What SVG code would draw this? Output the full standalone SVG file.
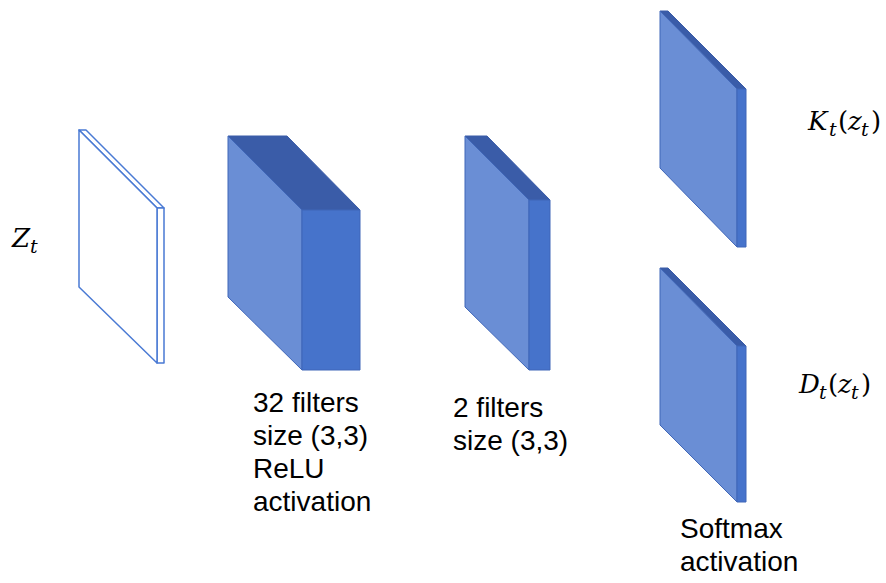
<svg xmlns="http://www.w3.org/2000/svg" width="886" height="583" viewBox="0 0 886 583">
  <style>
    .front { fill: #6A8ED5; stroke: #3F66B8; stroke-width: 1; stroke-linejoin: round; }
    .top { fill: #3A5CA8; stroke: #3A5CA8; stroke-width: 1; stroke-linejoin: round; }
    .side { fill: #4673CB; stroke: #3F66B8; stroke-width: 1; stroke-linejoin: round; }
    .outline { fill: #FFFFFF; stroke: #4A7AD4; stroke-width: 1.5; stroke-linejoin: round; }
    .label { font-family: "Liberation Sans", Arial, sans-serif; font-size: 28px; fill: #000000; }
    .math { font-family: "DejaVu Serif", "Liberation Serif", serif; font-size: 26px; fill: #000000; }
    .mi { font-style: italic; }
    .sub { font-style: italic; font-size: 19px; }
  </style>

  <!-- input plane z_t -->
  <g id="input">
    <polygon class="outline" points="79,130 86,130 164,208 157,208"/>
    <polygon class="outline" points="157,208 164,208 164,363 157,363"/>
    <polygon class="outline" points="79,130 157,208 157,363 79,287"/>
    <text class="math"><tspan class="mi" x="12" y="247">Z</tspan><tspan class="sub" x="30" y="253">t</tspan></text>
  </g>

  <!-- first conv layer: 32 filters -->
  <g id="conv1">
    <polygon class="top" points="228,136 287,136 360,210 302,210"/>
    <polygon class="front" points="228,136 302,210 302,370 228,297"/>
    <polygon class="side" points="302,210 360,210 360,370 302,370"/>
    <text class="label"><tspan x="253" y="412">32 filters</tspan><tspan x="253" y="445">size (3,3)</tspan><tspan x="253" y="478">ReLU</tspan><tspan x="253" y="511">activation</tspan></text>
  </g>

  <!-- second conv layer: 2 filters -->
  <g id="conv2">
    <polygon class="top" points="465,136 487,136 550,200 529,200"/>
    <polygon class="front" points="465,136 529,200 529,370 465,307"/>
    <polygon class="side" points="529,200 550,200 550,370 529,370"/>
    <text class="label"><tspan x="453" y="417">2 filters</tspan><tspan x="453" y="450">size (3,3)</tspan></text>
  </g>

  <!-- output map K_t -->
  <g id="outK">
    <polygon class="top" points="660,11 668,11 746,89 737,89"/>
    <polygon class="front" points="660,11 737,89 737,247 660,168"/>
    <polygon class="side" points="737,89 746,89 746,247 737,247"/>
    <text class="math"><tspan class="mi" x="808" y="130">K</tspan><tspan class="sub" x="829" y="136">t</tspan><tspan x="838" y="130">(</tspan><tspan class="mi" x="848" y="130">z</tspan><tspan class="sub" x="861" y="136">t</tspan><tspan x="871" y="130">)</tspan></text>
  </g>

  <!-- output map D_t -->
  <g id="outD">
    <polygon class="top" points="660,268 668,268 746,346 737,346"/>
    <polygon class="front" points="660,268 737,346 737,502 660,425"/>
    <polygon class="side" points="737,346 746,346 746,502 737,502"/>
    <text class="math"><tspan class="mi" x="799" y="393">D</tspan><tspan class="sub" x="819" y="399">t</tspan><tspan x="828" y="393">(</tspan><tspan class="mi" x="838" y="393">z</tspan><tspan class="sub" x="851" y="399">t</tspan><tspan x="861" y="393">)</tspan></text>
    <text class="label"><tspan x="680" y="538">Softmax</tspan><tspan x="680" y="571">activation</tspan></text>
  </g>

  <g id="connectors"/>
</svg>
